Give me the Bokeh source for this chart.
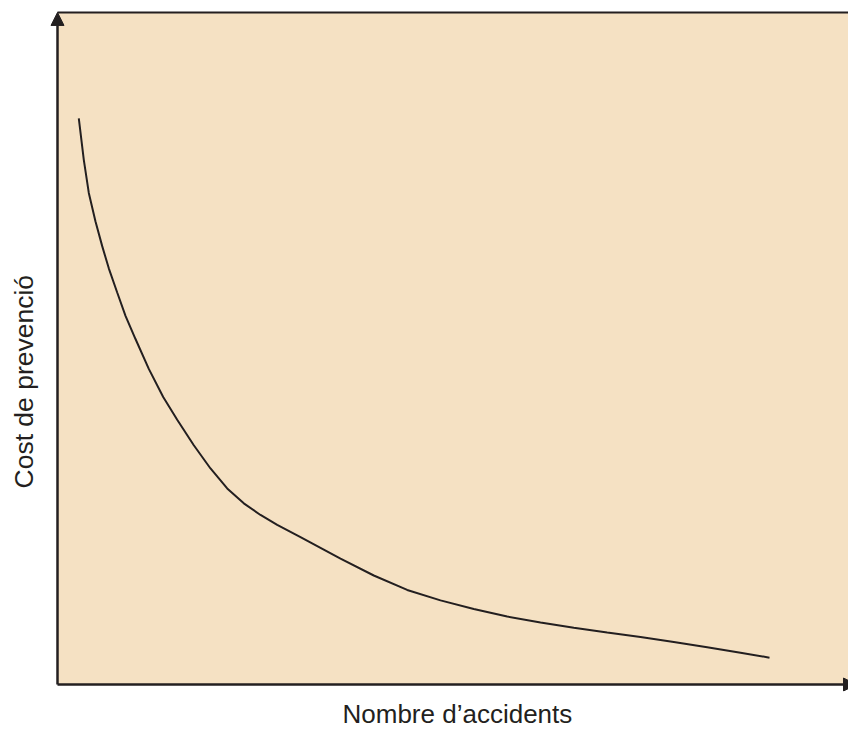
from bokeh.plotting import figure
from bokeh.models import Range1d, Arrow, NormalHead, BoxAnnotation, Title
from bokeh.embed import file_html
from bokeh.resources import INLINE

# Curve (arbitrary units: accidents vs prevention cost)
accidents = [21.3, 26.3, 31.3, 38, 44.7, 51.3, 59.7, 68, 78, 91.3, 105.7, 119.7, 136.3,
             153, 169.7, 186.3, 203, 219.7, 243, 283, 316.3, 349.7, 383, 416.3, 449.7,
             483, 516.3, 549.7, 583, 616.3, 649.7, 683, 712]
prevention_cost = [568.7, 527, 493.7, 465, 440.3, 418, 393.7, 370.3, 347, 317, 288.7, 266, 240.3,
                   217, 197, 182, 170.3, 160.3, 148, 126.5, 109.5, 95, 84.5, 75.8, 68.3,
                   62.3, 57, 52.2, 47.7, 42.7, 37.5, 32, 27]

x_title = "Nombre d\u2019accidents"
y_title = "Cost de prevenci\u00f3"

INK = "#231F20"
BG = "#F5E1C3"

W, H = 848, 733
# frame in pixels: left 40, top 0, right 848, bottom 694 ; axes origin at pixel (57, 687)
left_b, bottom_b = 40, 39
x_lo = -(57 - left_b)
x_hi = W - 57
y_lo = -(H - bottom_b - 687)
y_hi = 687
y_top = 675   # top border of the panel

p = figure(width=W, height=H, output_backend="svg", toolbar_location=None,
           x_range=Range1d(x_lo, x_hi), y_range=Range1d(y_lo, y_hi),
           x_axis_type=None, y_axis_type=None,
           min_border_left=left_b, min_border_right=0,
           min_border_top=0, min_border_bottom=bottom_b)
p.background_fill_color = "white"
p.border_fill_color = "white"
p.outline_line_color = None
p.grid.visible = False

p.add_layout(BoxAnnotation(left=0, bottom=0, top=y_top, fill_color=BG, fill_alpha=1,
                           line_color=None, level="underlay"))

p.line(accidents, prevention_cost, line_width=2, line_color=INK)

p.add_layout(Arrow(end=None, x_start=0, y_start=y_top, x_end=x_hi + 5, y_end=y_top,
                   line_color=INK, line_width=2))
p.add_layout(Arrow(end=NormalHead(size=13, fill_color=INK, line_color=INK, line_width=1),
                   x_start=0, y_start=0, x_end=0, y_end=y_top,
                   line_color=INK, line_width=2.5))
p.add_layout(Arrow(end=NormalHead(size=13, fill_color=INK, line_color=INK, line_width=1),
                   x_start=0, y_start=0, x_end=x_hi + 8, y_end=0,
                   line_color=INK, line_width=2.5))

p.add_layout(Title(text=x_title, align="left", offset=302, standoff=10,
                   text_font="Liberation Sans", text_font_size="26px",
                   text_font_style="normal", text_color=INK), "below")
p.add_layout(Title(text=y_title, align="left", offset=203, standoff=3,
                   text_font="Liberation Sans", text_font_size="26.5px",
                   text_font_style="normal", text_color=INK), "left")

open("out.html", "w").write(file_html(p, INLINE))
